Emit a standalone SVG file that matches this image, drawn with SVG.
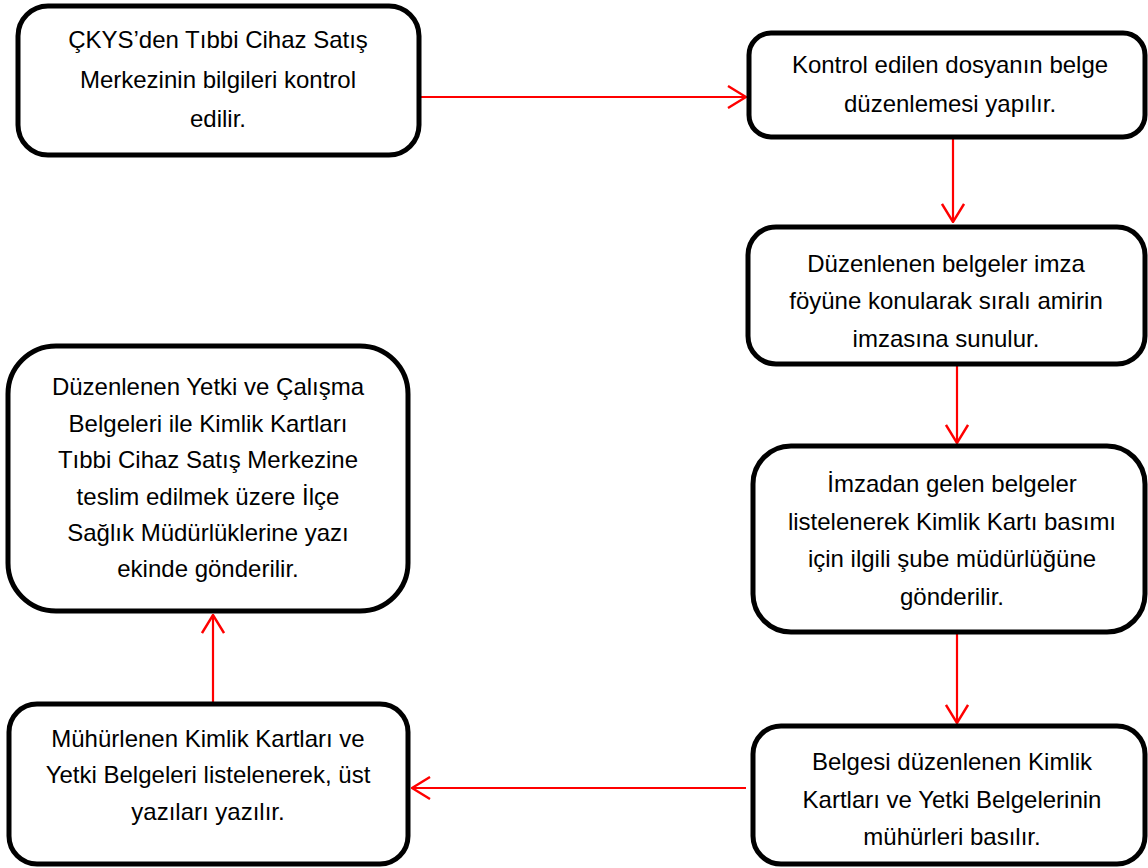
<svg xmlns="http://www.w3.org/2000/svg" width="1148" height="868" viewBox="0 0 1148 868">
<defs>
<style>
.box{fill:#fff;stroke:#000;stroke-width:5}
.t{font-family:"Liberation Sans",Arial,sans-serif;font-size:24px;fill:#000;text-anchor:middle}
.c{stroke:#f00;stroke-width:2.2;fill:none}
</style>
<marker id="ah" viewBox="0 0 20 24" refX="19" refY="12" markerWidth="20" markerHeight="24" markerUnits="userSpaceOnUse" orient="auto">
<path d="M1,1 L19,12 L1,23" fill="none" stroke="#f00" stroke-width="2.4"/>
</marker>
</defs>
<rect width="1148" height="868" fill="#fff"/>
<g id="connectors">
<line class="c" x1="420" y1="97" x2="746" y2="97" marker-end="url(#ah)"/>
<line class="c" x1="953" y1="139" x2="953" y2="222" marker-end="url(#ah)"/>
<line class="c" x1="957" y1="366" x2="957" y2="443" marker-end="url(#ah)"/>
<line class="c" x1="957" y1="634" x2="957" y2="723" marker-end="url(#ah)"/>
<line class="c" x1="746" y1="788" x2="412" y2="788" marker-end="url(#ah)"/>
<line class="c" x1="213" y1="703" x2="213" y2="615" marker-end="url(#ah)"/>
</g>
<g id="n1">
<rect class="box" x="18" y="6" width="401" height="149" rx="30"/>
<text class="t" x="218" y="48">ÇKYS’den Tıbbi Cihaz Satış</text>
<text class="t" x="218" y="88">Merkezinin bilgileri kontrol</text>
<text class="t" x="218" y="127">edilir.</text>
</g>
<g id="n2">
<rect class="box" x="749" y="33" width="396" height="104" rx="22"/>
<text class="t" x="950" y="73">Kontrol edilen dosyanın belge</text>
<text class="t" x="950" y="112">düzenlemesi yapılır.</text>
</g>
<g id="n3">
<rect class="box" x="748" y="227" width="397" height="137" rx="28"/>
<text class="t" x="946" y="272">Düzenlenen belgeler imza</text>
<text class="t" x="946" y="309">föyüne konularak sıralı amirin</text>
<text class="t" x="946" y="347">imzasına sunulur.</text>
</g>
<g id="n4">
<rect class="box" x="753" y="446" width="392" height="186" rx="38"/>
<text class="t" x="952" y="492">İmzadan gelen belgeler</text>
<text class="t" x="952" y="530">listelenerek Kimlik Kartı basımı</text>
<text class="t" x="952" y="567">için ilgili şube müdürlüğüne</text>
<text class="t" x="952" y="605">gönderilir.</text>
</g>
<g id="n5">
<rect class="box" x="753" y="726" width="392" height="138" rx="28"/>
<text class="t" x="952" y="770">Belgesi düzenlenen Kimlik</text>
<text class="t" x="952" y="808">Kartları ve Yetki Belgelerinin</text>
<text class="t" x="952" y="845">mühürleri basılır.</text>
</g>
<g id="n6">
<rect class="box" x="9" y="704" width="399" height="160" rx="28"/>
<text class="t" x="208" y="747">Mühürlenen Kimlik Kartları ve</text>
<text class="t" x="208" y="783">Yetki Belgeleri listelenerek, üst</text>
<text class="t" x="208" y="820">yazıları yazılır.</text>
</g>
<g id="n7">
<rect class="box" x="8" y="346" width="400" height="265" rx="48"/>
<text class="t" x="208" y="395">Düzenlenen Yetki ve Çalışma</text>
<text class="t" x="208" y="432">Belgeleri ile Kimlik Kartları</text>
<text class="t" x="208" y="468">Tıbbi Cihaz Satış Merkezine</text>
<text class="t" x="208" y="505">teslim edilmek üzere İlçe</text>
<text class="t" x="208" y="541">Sağlık Müdürlüklerine yazı</text>
<text class="t" x="208" y="577">ekinde gönderilir.</text>
</g>
</svg>
